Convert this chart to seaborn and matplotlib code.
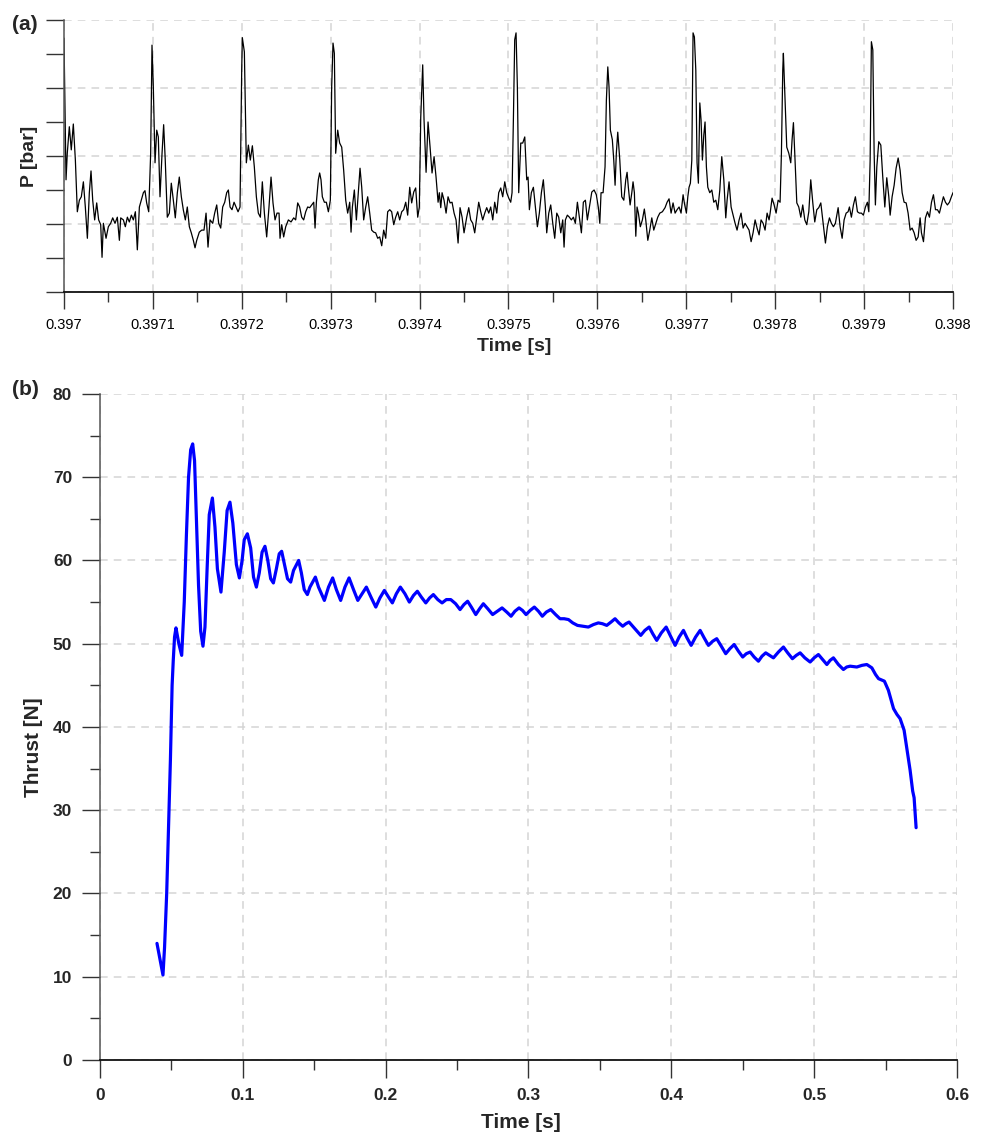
import numpy as np
import pandas as pd
import matplotlib
matplotlib.use("Agg")
import matplotlib.pyplot as plt
from matplotlib.ticker import MultipleLocator, FuncFormatter
import seaborn as sns

# -------------------- DATA --------------------
# (a) chamber pressure trace, time given in microseconds after 0.397 s
p_time_us = [
    0, 2.3, 3.7, 6.0, 8.2, 10.5, 12.8, 15.0, 17.3, 19.5, 21.8, 24.0, 26.3, 28.5, 30.4, 32.3,
    34.5, 36.8, 39.0, 41.3, 42.8, 44.3, 47.3, 49.9, 52.5, 54.8, 57.4, 60.0, 62.3, 63.8, 66.8, 69.0,
    71.3, 73.5, 75.8, 78.0, 80.3, 82.5, 84.8, 87.0, 89.3, 91.1, 93.0, 95.3, 97.5, 99.0, 100.5, 102.4,
    104.3, 106.1, 108.0, 110.3, 112.1, 113.9, 116.2, 118.5, 120.7, 123.0, 125.2, 127.5, 129.7, 132.0,
    134.2, 136.5, 138.7, 141.0, 143.2, 145.5, 147.4, 149.3, 152.2, 154.9, 157.5, 159.8, 162.0, 164.3,
    167.3, 169.5, 171.8, 174.0, 176.3, 178.5, 180.8, 183.0, 184.9, 186.8, 189.0, 191.3, 193.5, 195.8,
    198.0, 199.9, 200.6, 202.9, 205.1, 207.4, 209.6, 211.9, 214.1, 216.4, 218.6, 220.9, 223.1, 225.4,
    228.0, 230.6, 232.9, 235.1, 237.4, 239.6, 241.9, 243.0, 244.9, 247.1, 249.4, 252.4, 255.4, 258.4,
    260.6, 262.9, 265.1, 267.4, 269.6, 271.9, 274.1, 276.4, 278.6, 280.9, 282.4, 283.9, 286.1, 287.6,
    289.1, 290.6, 292.9, 295.1, 297.4, 299.6, 301.1, 302.6, 304.1, 305.6, 307.9, 310.1, 312.4, 314.6,
    316.9, 319.1, 321.4, 322.9, 324.4, 326.6, 328.9, 331.1, 333.0, 334.9, 337.1, 339.4, 341.6, 343.9,
    346.1, 348.4, 350.6, 352.9, 355.1, 357.4, 359.6, 361.9, 364.1, 366.4, 368.6, 370.9, 373.1, 375.4,
    377.6, 379.9, 382.1, 384.4, 386.6, 388.9, 391.1, 393.4, 395.6, 397.9, 399.7, 401.3, 403.5, 405.0,
    407.3, 409.5, 411.8, 414.0, 416.3, 418.5, 420.8, 422.2, 423.8, 425.3, 427.5, 429.8, 432.0, 434.3,
    436.5, 438.8, 441.0, 443.3, 445.5, 447.8, 450.0, 453.0, 455.3, 457.5, 459.8, 462.0, 464.3, 466.5,
    468.8, 471.0, 473.3, 475.5, 477.8, 480.0, 482.3, 484.5, 486.8, 489.0, 491.3, 493.5, 495.8, 498.0,
    500.3, 502.5, 504.0, 505.5, 507.0, 508.5, 510.0, 511.5, 513.8, 516.0, 518.3, 520.5, 522.0, 523.5,
    525.7, 528.0, 530.2, 532.5, 534.7, 537.0, 539.2, 541.5, 543.0, 545.3, 547.5, 549.8, 552.0, 554.3,
    556.5, 558.8, 561.0, 562.5, 564.0, 566.2, 568.5, 570.7, 573.0, 575.2, 577.5, 579.7, 582.0, 584.2,
    586.5, 588.7, 591.0, 593.7, 596.3, 598.8, 601.1, 602.7, 604.1, 606.4, 608.6, 610.1, 611.7, 613.1,
    614.6, 616.8, 618.4, 619.9, 621.3, 622.9, 625.2, 627.4, 629.7, 631.9, 633.4, 634.8, 636.8, 638.7,
    640.1, 641.6, 643.2, 644.6, 646.1, 648.3, 650.6, 652.8, 654.4, 656.7, 658.9, 661.2, 663.4, 665.7,
    667.9, 670.2, 673.1, 676.1, 678.4, 680.6, 682.9, 685.1, 687.4, 689.6, 691.9, 694.1, 696.4, 697.8,
    700.1, 701.7, 703.1, 704.6, 706.2, 707.6, 709.1, 710.7, 712.1, 713.6, 715.2, 716.6, 718.1, 719.7,
    721.1, 722.6, 724.2, 726.4, 728.7, 730.9, 733.2, 735.4, 737.7, 739.9, 742.2, 744.4, 745.9, 748.1,
    750.4, 752.6, 754.9, 757.1, 759.4, 761.6, 763.9, 766.1, 768.4, 770.6, 772.9, 775.1, 777.4, 779.6,
    781.9, 784.1, 786.4, 788.6, 790.9, 793.1, 794.3, 796.5, 798.8, 801.0, 803.3, 805.5, 807.0, 808.5,
    809.2, 810.8, 813.0, 815.3, 817.5, 819.0, 820.5, 822.0, 824.3, 826.5, 828.8, 831.0, 833.3, 835.5,
    837.8, 840.0, 842.3, 844.5, 846.8, 849.0, 851.3, 853.5, 856.5, 858.7, 861.0, 863.2, 865.5, 867.7,
    870.8, 873.0, 875.3, 877.5, 879.8, 882.0, 883.5, 885.7, 888.0, 890.2, 892.5, 894.7, 897.0, 899.2,
    901.5, 903.7, 905.3, 906.8, 908.2, 909.8, 911.3, 912.7, 914.3, 916.5, 918.8, 921.0, 923.3, 925.5,
    927.8, 929.3, 931.5, 933.8, 936.0, 938.3, 940.5, 942.8, 945.0, 947.3, 949.5, 951.8, 954.0, 956.3,
    958.5, 960.8, 963.0, 964.5, 966.8, 969.0, 971.3, 973.5, 975.8, 978.0, 980.3, 982.5, 984.7, 987.0,
    989.2, 991.5, 993.7, 996.0, 998.2, 1000.0,
]
p_bar = [
    37.3, 16.5, 20.4, 24.3, 20.9, 24.7, 19.4, 11.8, 13.5, 14.0, 16.2, 12.5, 7.9, 14.6, 17.8, 13.5,
    10.6, 13.1, 10.6, 9.9, 5.1, 10.1, 7.9, 9.6, 10.1, 10.9, 10.1, 11.0, 7.6, 10.9, 10.6, 9.6,
    11.0, 10.3, 11.3, 10.6, 11.8, 6.2, 12.5, 13.5, 14.6, 14.9, 13.1, 11.8, 20.4, 36.3, 30.1, 19.0,
    23.8, 22.8, 14.0, 20.4, 24.6, 19.4, 11.0, 11.6, 16.0, 13.5, 10.9, 14.6, 16.9, 14.0,
    12.1, 10.6, 12.5, 9.6, 8.7, 7.6, 6.5, 7.6, 8.8, 9.1, 9.1, 11.6, 6.6, 10.6,
    10.1, 11.6, 12.8, 10.1, 9.4, 12.5, 13.2, 14.6, 15.0, 12.5, 12.1, 13.2, 12.5, 11.8,
    12.5, 32.6, 37.4, 35.3, 19.0, 21.6, 19.4, 21.5, 18.4, 14.0, 11.6, 11.0, 16.2, 11.6,
    8.1, 12.5, 16.9, 13.1, 10.6, 11.6, 11.6, 7.9, 9.9, 8.1, 9.6, 10.6, 10.3, 10.9,
    10.6, 13.1, 12.5, 11.0, 10.6, 11.8, 12.5, 12.4, 12.8, 13.2, 9.4, 13.2, 16.5, 17.5,
    16.5, 14.0, 13.2, 13.2, 11.8, 13.5, 30.1, 36.6, 35.1, 20.4, 23.8, 21.9, 21.3, 17.9,
    13.5, 11.6, 13.2, 8.8, 12.5, 15.0, 10.6, 14.6, 18.2, 15.4, 10.6, 12.5, 14.0, 11.6,
    9.1, 8.8, 8.7, 7.9, 8.1, 6.8, 9.1, 7.9, 11.8, 12.1, 11.8, 9.9, 11.0, 11.8,
    10.6, 11.8, 12.1, 13.2, 11.3, 15.4, 13.1, 14.7, 15.3, 11.0, 12.5, 25.7, 33.4, 25.3,
    17.6, 25.0, 21.3, 17.5, 19.9, 16.9, 13.2, 14.6, 12.4, 14.6, 13.5, 11.6, 14.0, 13.1,
    13.2, 11.6, 10.6, 7.2, 12.4, 11.0, 8.7, 11.0, 12.4, 10.6, 10.1, 8.7, 11.0, 13.2,
    11.8, 10.6, 11.6, 12.4, 11.6, 12.5, 10.6, 13.2, 11.6, 14.6, 15.3, 14.0, 16.2, 14.6,
    13.8, 13.2, 14.6, 25.3, 37.1, 38.1, 30.1, 14.6, 21.9, 21.9, 22.8, 16.5, 16.9, 12.1,
    14.6, 15.4, 12.5, 9.6, 11.6, 14.6, 16.5, 12.5, 8.7, 11.6, 12.8, 10.1, 7.9, 11.6,
    11.0, 8.7, 10.6, 6.6, 10.6, 11.3, 11.0, 10.6, 11.0, 10.1, 13.2, 11.0, 8.7, 13.2,
    13.5, 10.6, 12.5, 14.7, 15.0, 14.3, 12.4, 10.1, 14.6, 14.6, 18.4, 28.2, 33.1, 30.1,
    23.8, 22.4, 19.4, 15.7, 20.4, 23.5, 19.4, 14.0, 13.5, 16.5, 17.6, 15.4, 12.8, 14.6,
    16.2, 14.6, 8.2, 12.5, 11.6, 9.6, 10.6, 12.2, 10.6, 7.6, 9.1, 10.9, 9.1, 10.1,
    11.0, 11.6, 11.8, 12.4, 13.2, 13.7, 11.6, 13.1, 11.6, 12.1, 12.5, 11.6, 14.3, 13.1,
    11.6, 14.0, 15.4, 16.0, 19.4, 38.1, 37.5, 32.6, 19.0, 16.0, 27.8, 25.3, 19.4, 23.1,
    25.0, 18.4, 15.4, 14.6, 15.0, 13.2, 13.5, 12.1, 15.0, 19.9, 16.5, 10.9, 13.5, 16.2,
    12.5, 11.3, 10.1, 9.1, 10.6, 11.6, 9.4, 10.1, 9.6, 9.1, 7.4, 8.7, 10.6, 9.4,
    8.4, 10.6, 10.1, 9.1, 11.6, 10.6, 11.6, 13.8, 12.8, 11.6, 13.5, 13.2, 20.4, 32.6,
    35.1, 29.3, 21.3, 20.4, 19.0, 22.4, 24.9, 20.4, 13.1, 12.5, 11.0, 12.8, 10.6, 9.9,
    11.8, 16.5, 13.1, 10.3, 12.1, 12.4, 13.1, 10.6, 7.2, 9.6, 10.9, 10.1, 9.6, 10.1,
    12.4, 9.6, 7.9, 10.6, 11.6, 11.8, 12.5, 11.0, 12.8, 14.0, 11.8, 11.6, 11.6, 11.3,
    12.5, 13.2, 11.8, 19.4, 36.8, 35.6, 20.4, 12.8, 18.4, 22.1, 21.6, 16.9, 12.5, 16.8,
    14.0, 11.3, 14.0, 15.7, 18.2, 19.7, 17.9, 14.6, 13.2, 13.1, 11.6, 9.1, 9.4, 8.7,
    7.6, 8.1, 10.9, 8.7, 7.4, 10.9, 11.8, 11.0, 13.2, 14.3, 12.1, 12.1, 11.6, 12.8,
    14.0, 13.2, 12.8, 13.2, 14.0, 14.6,
]
a_xticks = ["0.397", "0.3971", "0.3972", "0.3973", "0.3974", "0.3975",
            "0.3976", "0.3977", "0.3978", "0.3979", "0.398"]

# (b) thrust history
thrust_time = [
    0.0399, 0.0441, 0.0452, 0.0467, 0.0480, 0.0493, 0.0505, 0.0513, 0.0522, 0.0532, 0.0552, 0.0572,
    0.0590, 0.0605, 0.0620, 0.0635, 0.0649, 0.0662, 0.0675, 0.0690, 0.0705, 0.0721, 0.0735, 0.0750,
    0.0765, 0.0787, 0.0805, 0.0822, 0.0847, 0.0870, 0.0890, 0.0910, 0.0930, 0.0955, 0.0976, 0.0995,
    0.1010, 0.1032, 0.1055, 0.1075, 0.1095, 0.1115, 0.1135, 0.1155, 0.1175, 0.1195, 0.1214, 0.1235,
    0.1255, 0.1272, 0.1292, 0.1313, 0.1335, 0.1355, 0.1391, 0.1410, 0.1430, 0.1452, 0.1470, 0.1508,
    0.1530, 0.1571, 0.1600, 0.1629, 0.1655, 0.1685, 0.1715, 0.1744, 0.1775, 0.1805, 0.1835, 0.1865,
    0.1900, 0.1931, 0.1960, 0.1991, 0.2020, 0.2047, 0.2075, 0.2103, 0.2135, 0.2166, 0.2195, 0.2222,
    0.2250, 0.2281, 0.2308, 0.2334, 0.2365, 0.2395, 0.2425, 0.2456, 0.2490, 0.2521, 0.2548, 0.2574,
    0.2600, 0.2631, 0.2658, 0.2684, 0.2715, 0.2749, 0.2782, 0.2815, 0.2848, 0.2878, 0.2905, 0.2934,
    0.2958, 0.2983, 0.3012, 0.3041, 0.3070, 0.3097, 0.3125, 0.3156, 0.3190, 0.3221, 0.3250, 0.3280,
    0.3310, 0.3343, 0.3380, 0.3419, 0.3455, 0.3489, 0.3518, 0.3548, 0.3578, 0.3606, 0.3633, 0.3660,
    0.3682, 0.3704, 0.3745, 0.3786, 0.3815, 0.3845, 0.3870, 0.3898, 0.3930, 0.3964, 0.3995, 0.4027,
    0.4055, 0.4085, 0.4110, 0.4139, 0.4170, 0.4202, 0.4230, 0.4260, 0.4290, 0.4318, 0.4350, 0.4381,
    0.4410, 0.4440, 0.4470, 0.4500, 0.4525, 0.4552, 0.4580, 0.4610, 0.4635, 0.4661, 0.4688, 0.4715,
    0.4750, 0.4785, 0.4815, 0.4848, 0.4875, 0.4902, 0.4935, 0.4972, 0.5000, 0.5030, 0.5060, 0.5089,
    0.5112, 0.5135, 0.5170, 0.5205, 0.5228, 0.5252, 0.5299, 0.5335, 0.5369, 0.5404, 0.5430, 0.5451,
    0.5492, 0.5520, 0.5556, 0.5580, 0.5602, 0.5630, 0.5672, 0.5690, 0.5700, 0.5714,
]
thrust_n = [
    14.0, 10.2, 13.5, 20.0, 28.0, 36.0, 45.0, 48.0, 50.8, 51.9, 50.0, 48.6,
    55.0, 63.0, 70.0, 73.3, 74.0, 72.0, 65.0, 57.0, 51.5, 49.7, 52.0, 59.0,
    65.5, 67.5, 64.0, 59.0, 56.2, 61.0, 66.0, 67.0, 64.5, 59.5, 57.9, 60.0,
    62.5, 63.2, 61.5, 58.0, 56.8, 58.5, 61.0, 61.7, 60.0, 57.8, 57.3, 59.0,
    60.8, 61.1, 59.5, 57.8, 57.4, 58.8, 60.0, 58.5, 56.5, 55.9, 56.8, 58.0,
    56.8, 55.2, 56.8, 57.9, 56.5, 55.2, 56.8, 57.9, 56.5, 55.2, 56.0, 56.8,
    55.5, 54.4, 55.5, 56.4, 55.6, 54.9, 56.0, 56.8, 56.0, 55.0, 55.8, 56.3,
    55.6, 54.9, 55.5, 55.9, 55.3, 54.9, 55.3, 55.3, 54.8, 54.1, 54.7, 55.1,
    54.4, 53.5, 54.2, 54.8, 54.2, 53.5, 53.9, 54.3, 53.8, 53.3, 53.9, 54.3,
    54.0, 53.5, 54.0, 54.4, 53.9, 53.3, 53.8, 54.1, 53.5, 53.0, 53.0, 52.9,
    52.5, 52.2, 52.1, 52.0, 52.3, 52.5, 52.4, 52.2, 52.6, 53.0, 52.5, 52.1,
    52.4, 52.6, 51.8, 51.0, 51.6, 52.0, 51.2, 50.4, 51.3, 52.0, 50.9, 49.8,
    50.8, 51.6, 50.7, 49.8, 50.8, 51.6, 50.7, 49.8, 50.3, 50.6, 49.7, 48.8,
    49.4, 49.9, 49.1, 48.4, 48.8, 49.0, 48.4, 47.9, 48.5, 48.9, 48.6, 48.3,
    49.0, 49.6, 48.9, 48.2, 48.6, 48.9, 48.3, 47.8, 48.3, 48.7, 48.1, 47.5,
    48.0, 48.3, 47.5, 46.9, 47.2, 47.3, 47.2, 47.4, 47.5, 47.1, 46.3, 45.8,
    45.5, 44.4, 42.2, 41.5, 41.0, 39.6, 34.8, 32.3, 31.5, 27.9,
]

# -------------------- STYLE --------------------
sns.set_theme(style="white")
plt.rcParams["font.family"] = ["Liberation Sans", "DejaVu Sans"]

AXC = "#333333"
GRID = dict(color="#d4d4d4", linestyle=(0, (5, 4)), linewidth=1.1)

fig = plt.figure(figsize=(9.89, 11.34), dpi=100)
ax_a = fig.add_axes([0.0647, 0.7425, 0.8989, 0.2399])
ax_b = fig.add_axes([0.1011, 0.0653, 0.8665, 0.5873])

# -------------------- PANEL (a) --------------------
df_a = pd.DataFrame({"time": 0.397 + np.array(p_time_us) * 1e-6, "p": p_bar})
sns.lineplot(data=df_a, x="time", y="p", ax=ax_a, color="black",
             linewidth=0.9, estimator=None, sort=False)

ax_a.set_xlim(0.397, 0.398)
ax_a.set_ylim(0, 40)
ax_a.set_xticks([0.397 + i * 0.0001 for i in range(len(a_xticks))])
ax_a.set_xticklabels(a_xticks)
ax_a.xaxis.set_minor_locator(MultipleLocator(0.00005))
ax_a.yaxis.set_major_locator(MultipleLocator(10))
ax_a.yaxis.set_minor_locator(MultipleLocator(5))
ax_a.tick_params(axis="x", which="major", bottom=True, direction="out", length=12,
                 width=1, color=AXC, pad=7, labelsize=10.5, labelcolor="black")
ax_a.tick_params(axis="x", which="minor", bottom=True, direction="out", length=7,
                 width=1, color=AXC)
ax_a.tick_params(axis="y", which="both", left=True, direction="out", length=13,
                 width=1, color=AXC, labelleft=False)
ax_a.grid(True, which="major", **GRID)
ax_a.set_axisbelow(True)
ax_a.set_xlabel("Time [s]", fontsize=14, fontweight="bold", va="top")
ax_a.xaxis.set_label_coords(0.506, -0.17)
ax_a.set_ylabel("P [bar]", fontsize=14, fontweight="bold")
ax_a.yaxis.set_label_coords(-0.029, 0.5)

# -------------------- PANEL (b) --------------------
df_b = pd.DataFrame({"time": thrust_time, "thrust": thrust_n})
sns.lineplot(data=df_b, x="time", y="thrust", ax=ax_b, color="#0000ff",
             linewidth=2.3, estimator=None, sort=False)

ax_b.set_xlim(0, 0.6)
ax_b.set_ylim(0, 80)
ax_b.xaxis.set_major_locator(MultipleLocator(0.1))
ax_b.xaxis.set_minor_locator(MultipleLocator(0.05))
ax_b.yaxis.set_major_locator(MultipleLocator(10))
ax_b.yaxis.set_minor_locator(MultipleLocator(5))
ax_b.xaxis.set_major_formatter(FuncFormatter(lambda v, _: f"{v:.1f}".rstrip("0").rstrip(".")))
ax_b.yaxis.set_major_formatter(FuncFormatter(lambda v, _: f"{v:.0f}"))
ax_b.tick_params(axis="x", which="major", bottom=True, direction="out", length=13,
                 width=1, color=AXC, pad=7, labelsize=12.5)
ax_b.tick_params(axis="x", which="minor", bottom=True, direction="out", length=7,
                 width=1, color=AXC)
ax_b.tick_params(axis="y", which="major", left=True, direction="out", length=13,
                 width=1, color=AXC, pad=7, labelsize=12.5)
ax_b.tick_params(axis="y", which="minor", left=True, direction="out", length=7,
                 width=1, color=AXC)
for lab in ax_b.get_xticklabels() + ax_b.get_yticklabels():
    lab.set_fontweight("bold")
ax_b.grid(True, which="major", **GRID)
ax_b.set_axisbelow(True)
ax_b.set_xlabel("Time [s]", fontsize=15, fontweight="bold", va="top")
ax_b.xaxis.set_label_coords(0.491, -0.08)
ax_b.set_ylabel("Thrust [N]", fontsize=15, fontweight="bold")
ax_b.yaxis.set_label_coords(-0.067, 0.47)

for ax in (ax_a, ax_b):
    sns.despine(ax=ax, top=True, right=True)
    ax.spines["left"].set_color("#555555")
    ax.spines["left"].set_linewidth(1.1)
    ax.spines["bottom"].set_color("#111111")
    ax.spines["bottom"].set_linewidth(1.3)

fig.text(0.012, 1 - 24 / 1134, "(a)", fontsize=15, fontweight="bold", va="center", ha="left")
fig.text(0.012, 1 - 389 / 1134, "(b)", fontsize=15, fontweight="bold", va="center", ha="left")

fig.savefig("out.png", dpi=100)
